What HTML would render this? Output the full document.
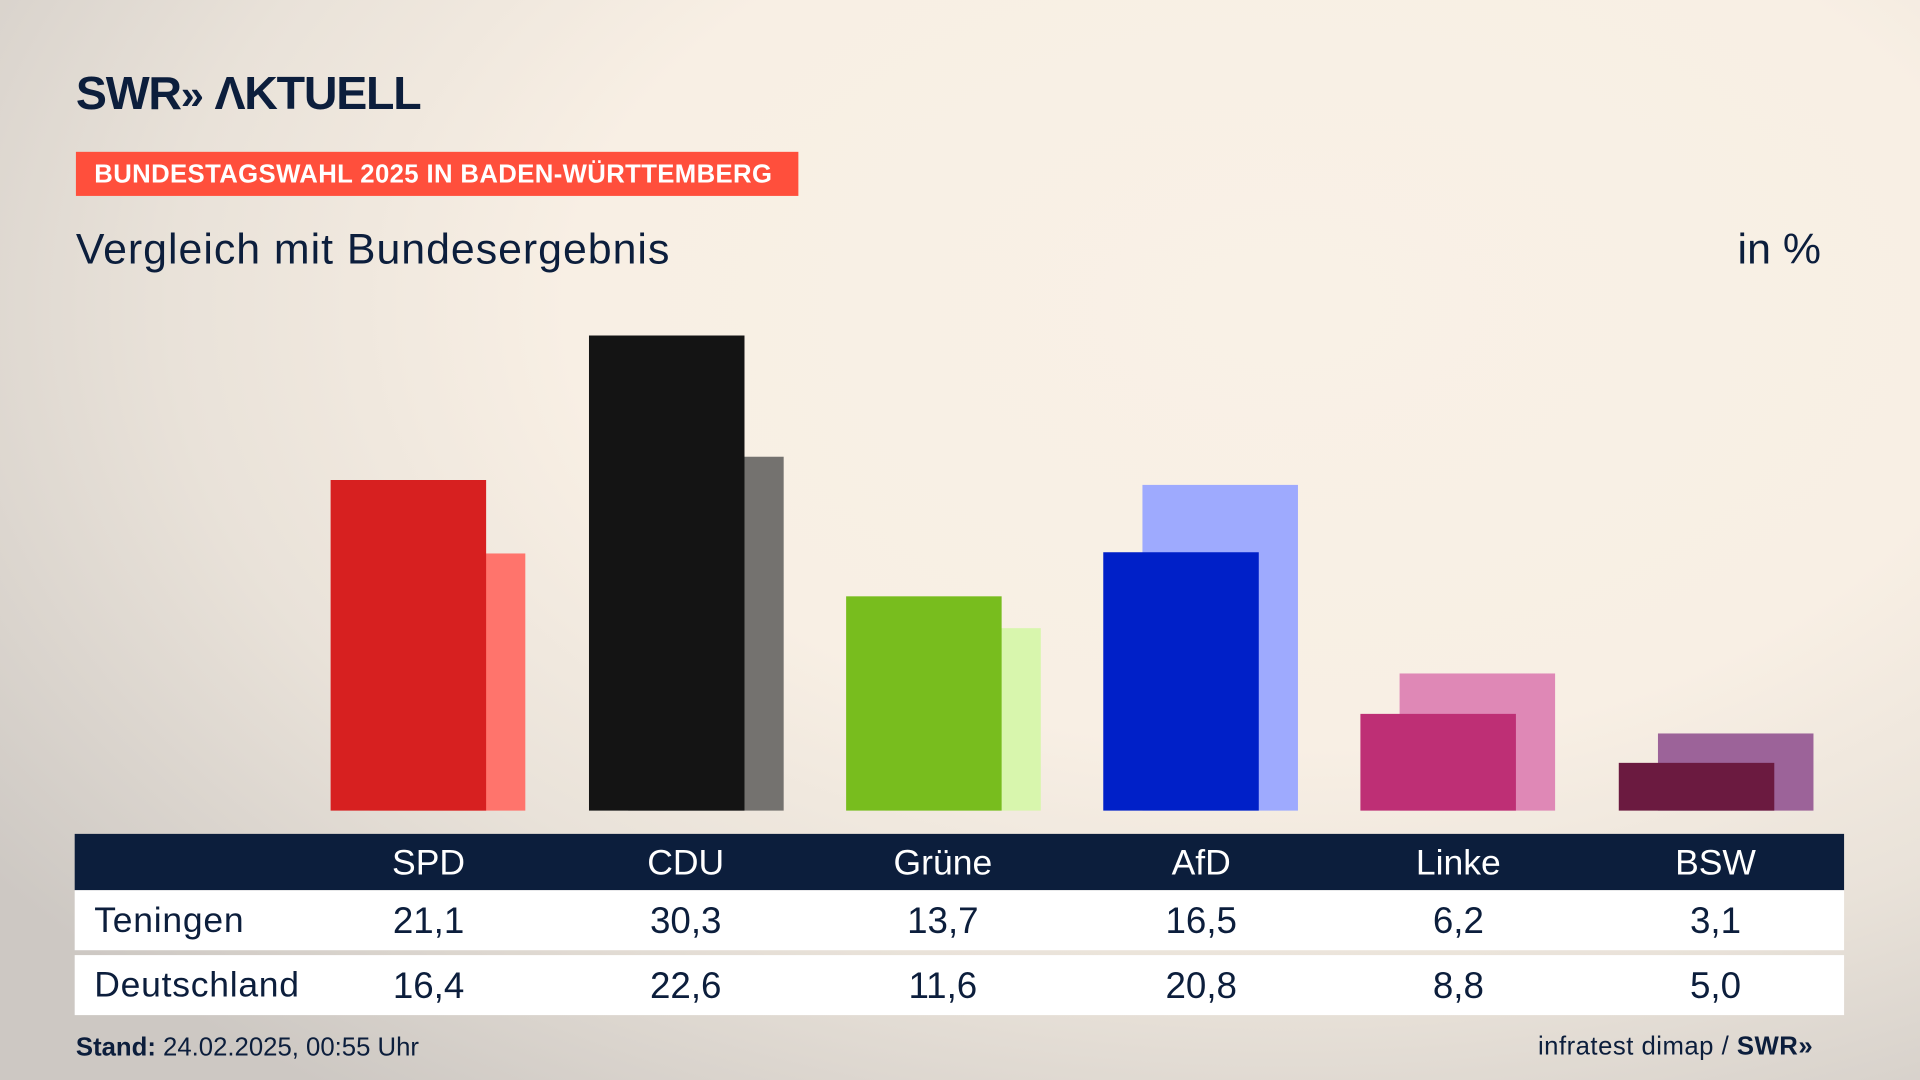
<!DOCTYPE html>
<html><head><meta charset="utf-8"><style>
html,body{margin:0;padding:0;width:1920px;height:1080px;overflow:hidden}
#w{position:absolute;left:0;top:0;width:1568px;height:882px;transform:scale(1.22449);transform-origin:0 0;
background:radial-gradient(ellipse 1300px 800px at 1050px 250px,#f9f1e6 0%,#f8efe4 45%,#e9e2d9 70%,#cdc8c3 100%);
font-family:"Liberation Sans","DejaVu Sans",sans-serif;color:#0c1e3c}
.a{position:absolute}
.b{position:absolute}
.hd{position:absolute;top:681px;left:61px;width:1445px;height:46px;background:#0c1e3c}
.r{position:absolute;left:61px;width:1445px;height:49px;background:#fff}
.t{position:absolute;width:160px;text-align:center;font-size:30px}
</style></head><body><div id="w">
<div class="a" style="left:62px;top:56px;font-size:38px;font-weight:bold;letter-spacing:-1px">SWR<span style="font-size:34px">»</span> ΛKTUELL</div>
<div class="a" style="left:62px;top:124px;width:590px;height:36px;background:#ff4f3c;color:#fff;font-weight:bold;font-size:21px;line-height:37px;text-indent:15px;letter-spacing:0.3px">BUNDESTAGSWAHL 2025 IN BADEN-WÜRTTEMBERG</div>
<div class="a" style="left:62px;top:184px;font-size:35px;letter-spacing:0.8px">Vergleich mit Bundesergebnis</div>
<div class="a" style="left:1419px;top:184px;font-size:35px">in %</div>

<div class="b" style="left:302px;top:452px;width:127px;height:210px;background:#ff746c"></div>
<div class="b" style="left:270px;top:392px;width:127px;height:270px;background:#d72020"></div>
<div class="b" style="left:513px;top:373px;width:127px;height:289px;background:#74726f"></div>
<div class="b" style="left:481px;top:274px;width:127px;height:388px;background:#141414"></div>
<div class="b" style="left:723px;top:513px;width:127px;height:149px;background:#d8f6ad"></div>
<div class="b" style="left:691px;top:487px;width:127px;height:175px;background:#78bd1e"></div>
<div class="b" style="left:933px;top:396px;width:127px;height:266px;background:#9eaafe"></div>
<div class="b" style="left:901px;top:451px;width:127px;height:211px;background:#0020c8"></div>
<div class="b" style="left:1143px;top:550px;width:127px;height:112px;background:#df88b6"></div>
<div class="b" style="left:1111px;top:583px;width:127px;height:79px;background:#be2f75"></div>
<div class="b" style="left:1354px;top:599px;width:127px;height:63px;background:#9c6399"></div>
<div class="b" style="left:1322px;top:623px;width:127px;height:39px;background:#6b1a40"></div>

<div class="hd"></div>
<div class="r" style="top:727px"></div>
<div class="r" style="top:780px"></div>
<div class="t" style="left:270px;top:689px;color:#fff;font-size:29px">SPD</div>
<div class="t" style="left:480px;top:689px;color:#fff;font-size:29px">CDU</div>
<div class="t" style="left:690px;top:689px;color:#fff;font-size:29px">Grüne</div>
<div class="t" style="left:901px;top:689px;color:#fff;font-size:29px">AfD</div>
<div class="t" style="left:1111px;top:689px;color:#fff;font-size:29px">Linke</div>
<div class="t" style="left:1321px;top:689px;color:#fff;font-size:29px">BSW</div>
<div class="a" style="left:77px;top:736px;font-size:29px;letter-spacing:0.6px">Teningen</div>
<div class="t" style="left:270px;top:736px">21,1</div><div class="t" style="left:480px;top:736px">30,3</div><div class="t" style="left:690px;top:736px">13,7</div><div class="t" style="left:901px;top:736px">16,5</div><div class="t" style="left:1111px;top:736px">6,2</div><div class="t" style="left:1321px;top:736px">3,1</div>
<div class="a" style="left:77px;top:789px;font-size:29px;letter-spacing:0.6px">Deutschland</div>
<div class="t" style="left:270px;top:789px">16,4</div><div class="t" style="left:480px;top:789px">22,6</div><div class="t" style="left:690px;top:789px">11,6</div><div class="t" style="left:901px;top:789px">20,8</div><div class="t" style="left:1111px;top:789px">8,8</div><div class="t" style="left:1321px;top:789px">5,0</div>
<div class="a" style="left:62px;top:844px;font-size:21px"><b>Stand:</b> 24.02.2025, 00:55 Uhr</div>
<div class="a" style="left:1256px;top:843px;font-size:21px;letter-spacing:0.4px">infratest dimap / <b>SWR»</b></div>
</div></body></html>
